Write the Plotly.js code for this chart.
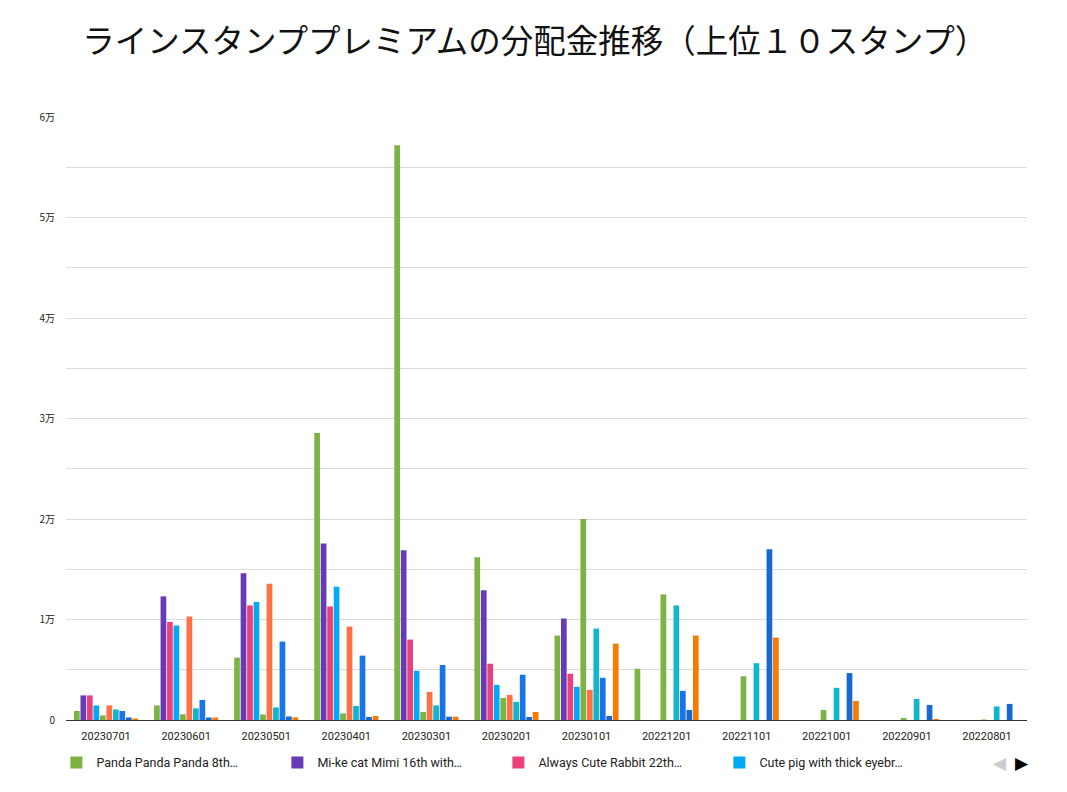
<!DOCTYPE html>
<html>
<head>
<meta charset="utf-8">
<script src="https://cdn.plot.ly/plotly-3.0.1.min.js"></script>
<style>
html, body {margin: 0; padding: 0; background: #fff;}
#chart {width: 1067px; height: 792px;}
</style>
</head>
<body>
<div id="chart"></div>
<script>
// Months (newest first, as in the sheet).
var months = ['20230701','20230601','20230501','20230401','20230301','20230201',
'20230101','20221201','20221101','20221001','20220901','20220801'];

// Payout per stamp (yen).
var panda   = [900, 1450, 6200, 28550, 57200, 16200, 8400, 5100, 0, 0, 0, 0];
var mikecat = [2450, 12300, 14600, 17570, 16900, 12900, 10100, 0, 0, 0, 0, 0];
var rabbit  = [2450, 9750, 11400, 11300, 8000, 5600, 4600, 0, 0, 0, 0, 0];
var pig     = [1450, 9400, 11750, 13250, 4900, 3500, 3300, 0, 0, 0, 0, 0];
var stamp5  = [450, 570, 550, 650, 800, 2200, 20000, 12500, 4350, 1000, 200, 50];
var stamp6  = [1450, 10300, 13550, 9300, 2800, 2500, 3000, 0, 0, 0, 0, 0];
var stamp7  = [1050, 1160, 1250, 1400, 1450, 1800, 9100, 11400, 5650, 3200, 2100, 1350];
var stamp8  = [900, 2000, 7800, 6400, 5470, 4500, 4200, 2900, 0, 0, 0, 0];
var stamp9  = [250, 250, 350, 300, 330, 300, 400, 1000, 17000, 4670, 1500, 1600];
var stamp10 = [150, 250, 270, 400, 330, 800, 7600, 8400, 8200, 1900, 100, 0];

var names = ['Panda Panda Panda 8th…', 'Mi-ke cat Mimi 16th with…',
'Always Cute Rabbit 22th…', 'Cute pig with thick eyebr…',
'Stamp 5', 'Stamp 6', 'Stamp 7', 'Stamp 8', 'Stamp 9', 'Stamp 10'];
var values = [panda, mikecat, rabbit, pig, stamp5, stamp6, stamp7, stamp8, stamp9, stamp10];
var colors = ['#7cb342', '#673ab7', '#ec407a', '#03a9f4', '#7cb342',
'#ff7043', '#12b5cb', '#1a73e8', '#1967d2', '#f57c00'];

// y ticks: grid every 5000, label every 1万.
var yticks = [0, 5000, 10000, 15000, 20000, 25000, 30000, 35000, 40000, 45000, 50000, 55000, 60000];
var ylabels = ['0', '', '1万', '', '2万', '', '3万', '', '4万', '', '5万', '', '6万'];

var graph_data = [];
for (var i = 0; i < values.length; ++i) {
graph_data.push({
type: 'bar',
x: months,
y: values[i],
name: names[i],
marker: {color: colors[i], line: {width: 0}},
showlegend: i < 4
});
}

var layout = {
width: 1067,
height: 792,
paper_bgcolor: '#fff',
plot_bgcolor: '#fff',
margin: {l: 66, r: 40, t: 117, b: 72},
barmode: 'group',
bargap: 0.19,
bargroupgap: 0.12,
font: {family: 'Roboto, sans-serif', color: '#222'},
title: {
text: 'ラインスタンププレミアムの分配金推移（上位１０スタンプ）',
font: {family: '"Noto Sans CJK JP", sans-serif', size: 32.5, color: '#111'},
x: 0.077,
xanchor: 'left',
y: 0.947,
yanchor: 'middle'
},
xaxis: {
type: 'category',
showgrid: false,
showline: true,
linecolor: '#333',
linewidth: 1,
ticks: '',
ticklabelstandoff: 6,
tickfont: {size: 11, color: '#222'},
fixedrange: true
},
yaxis: {
range: [0, 60000],
tickvals: yticks,
ticktext: ylabels,
gridcolor: '#dcdcdc',
gridwidth: 1,
zeroline: false,
ticks: '',
ticklabelstandoff: 10,
tickfont: {size: 10, color: '#222', family: '"Noto Sans CJK JP", sans-serif'},
fixedrange: true
},
legend: {
orientation: 'h',
x: -0.01,
xanchor: 'left',
y: -0.071,
yanchor: 'middle',
entrywidth: 176,
entrywidthmode: 'pixels',
font: {size: 12.5, color: '#222'},
itemclick: false
},
annotations: [
{text: '◀', xref: 'paper', yref: 'paper', x: 0.9716, y: -0.071, showarrow: false,
xanchor: 'center', yanchor: 'middle', font: {size: 17, color: '#cccccc'}},
{text: '▶', xref: 'paper', yref: 'paper', x: 0.9947, y: -0.071, showarrow: false,
xanchor: 'center', yanchor: 'middle', font: {size: 17, color: '#000'}}
]
};

Plotly.newPlot('chart', graph_data, layout, {displayModeBar: false, staticPlot: true});
</script>
</body>
</html>
